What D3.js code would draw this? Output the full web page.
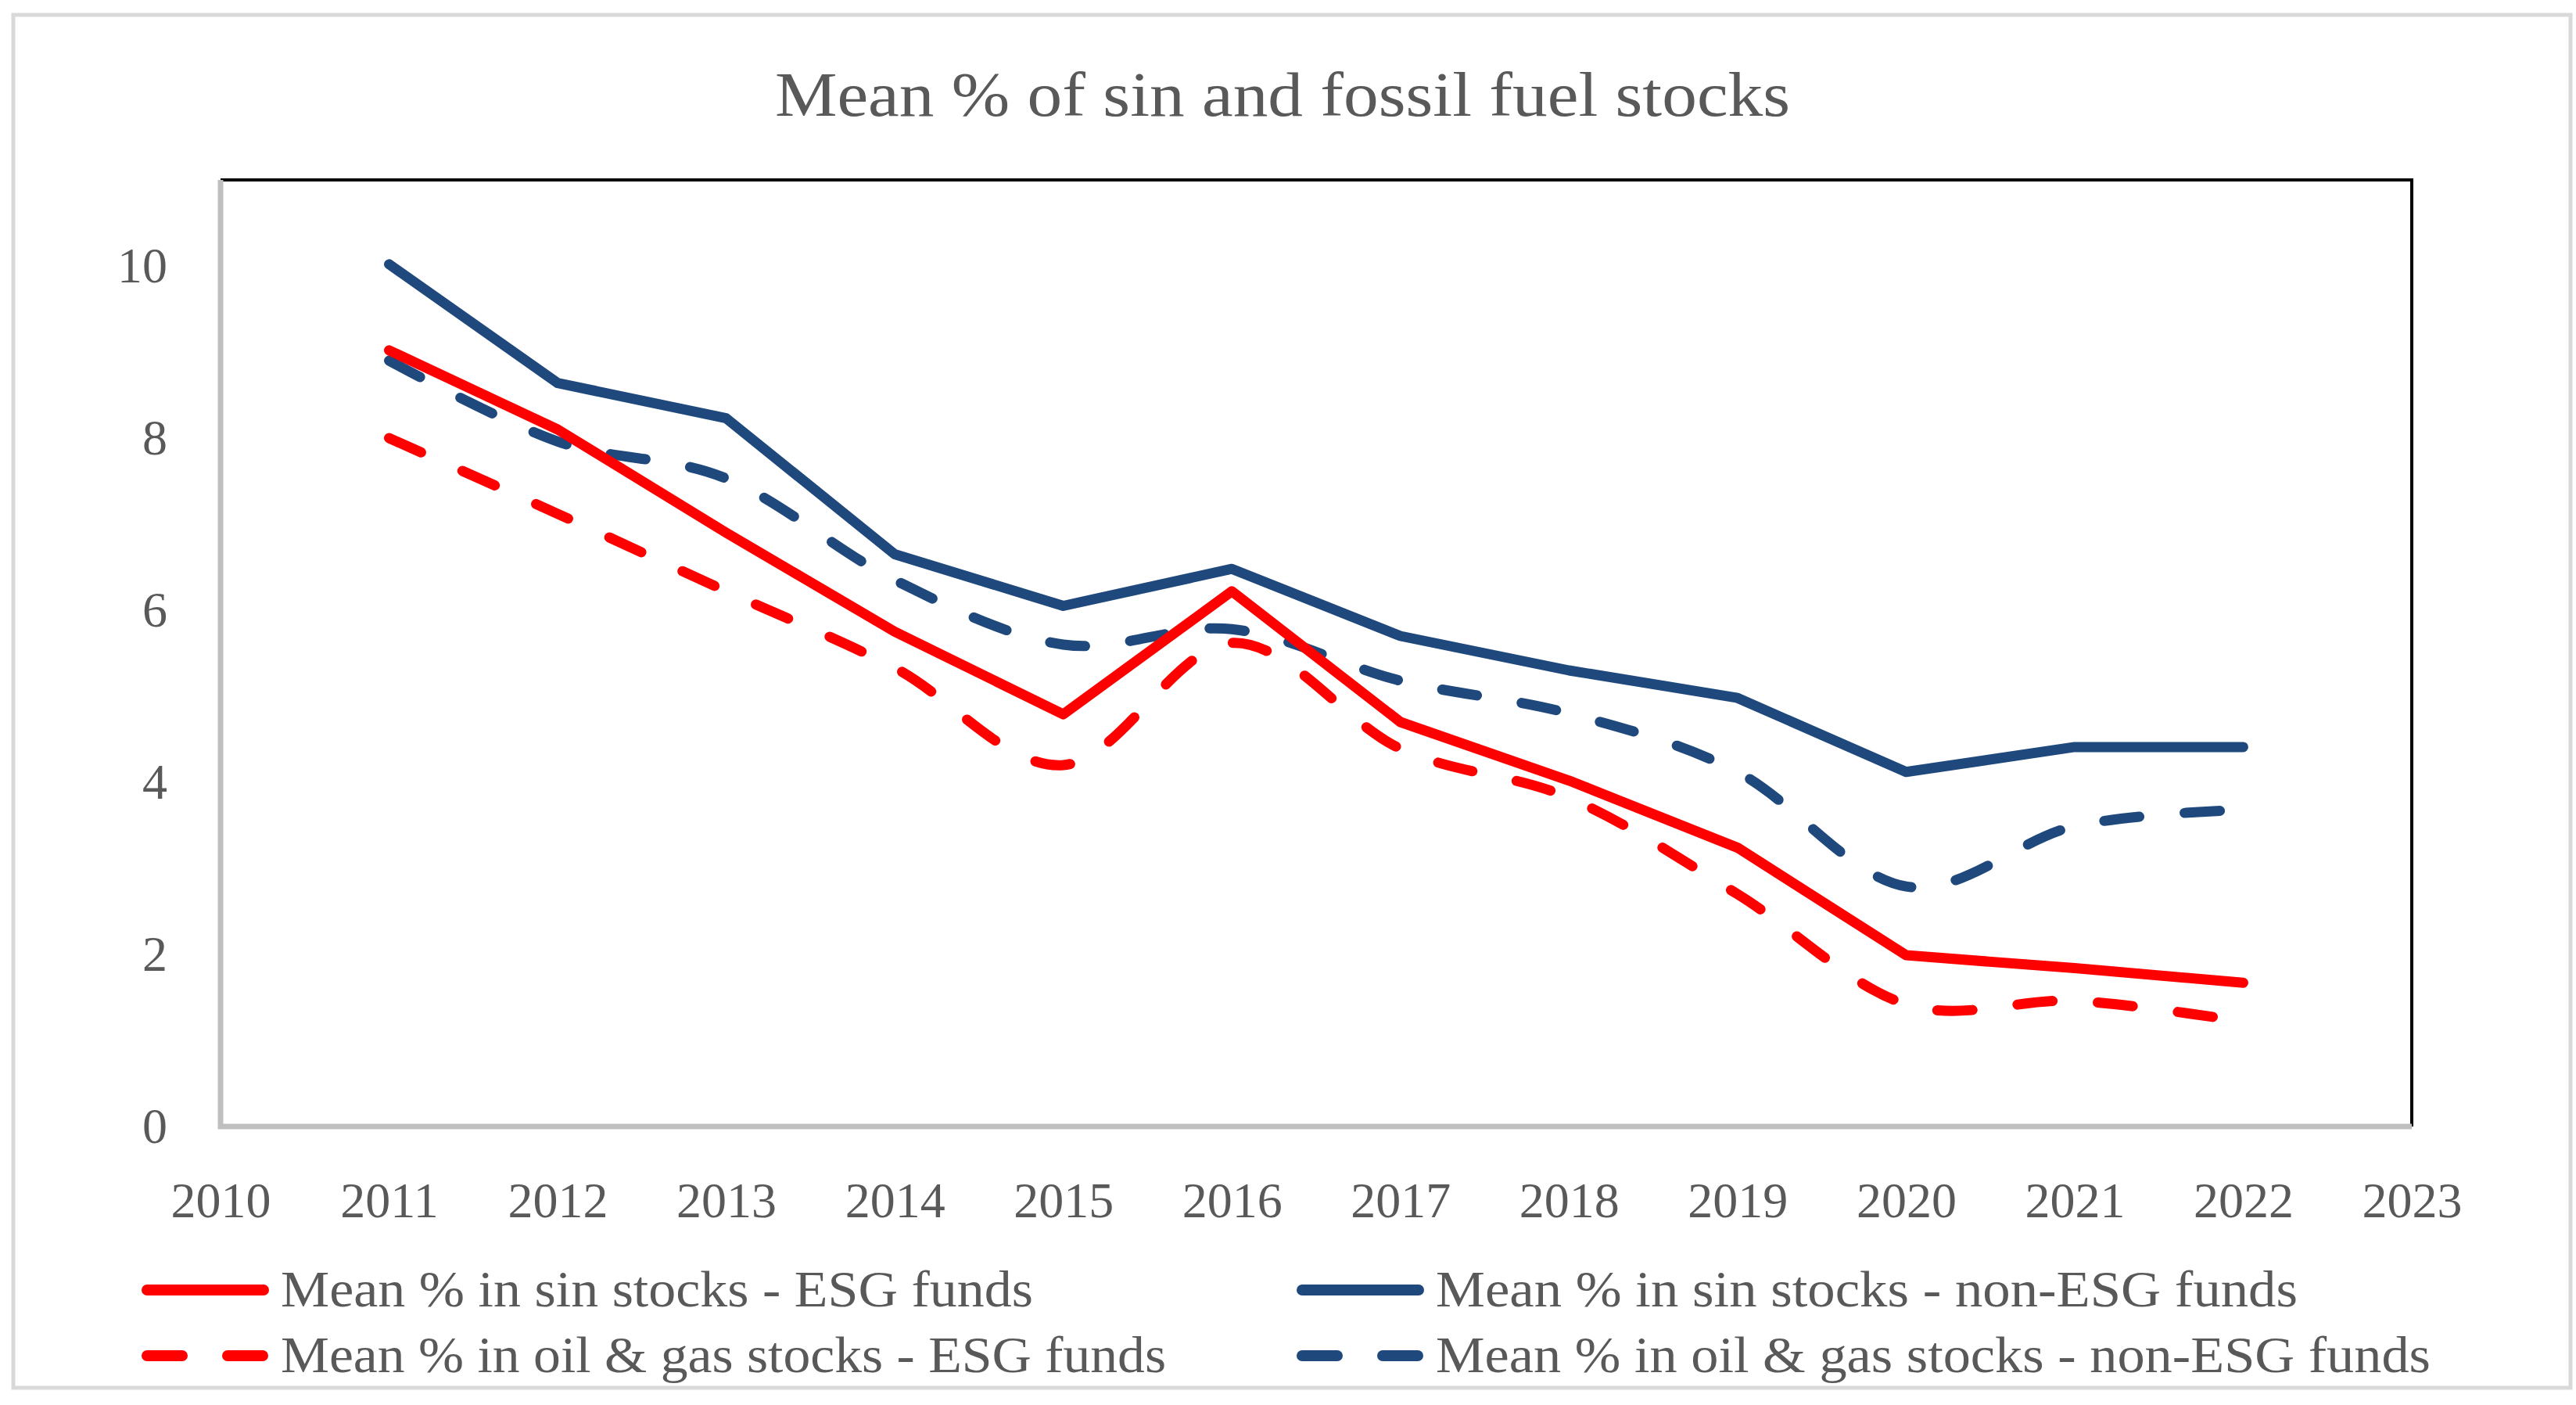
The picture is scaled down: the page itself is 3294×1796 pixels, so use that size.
<!DOCTYPE html>
<html>
<head>
<meta charset="utf-8">
<script src="https://cdn.jsdelivr.net/npm/d3@7"></script>
<style>
  html, body { margin: 0; padding: 0; background: #ffffff; }
  svg { display: block; }
  text { font-family: "Liberation Serif", "DejaVu Serif", serif; fill: #595959; }
</style>
</head>
<body>
<svg id="chart" width="3294" height="1796"></svg>
<script>
// ---------- data ----------
const title = "Mean % of sin and fossil fuel stocks";
const years = [2011, 2012, 2013, 2014, 2015, 2016, 2017, 2018, 2019, 2020, 2021, 2022];
const sinESG    = [9.02, 8.10, 6.90, 5.75, 4.79, 6.22, 4.70, 4.02, 3.24, 1.99, 1.84, 1.67];
const sinNonESG = [10.02, 8.64, 8.23, 6.65, 6.05, 6.48, 5.70, 5.30, 4.98, 4.12, 4.41, 4.41];
const oilESG    = [8.00, 7.12, 6.22, 5.33, 4.20, 5.62, 4.39, 3.82, 2.70, 1.42, 1.46, 1.22];
const oilNonESG = [8.90, 7.96, 7.53, 6.35, 5.60, 5.78, 5.18, 4.80, 4.12, 2.79, 3.49, 3.68];
const xTicks = [2010, 2011, 2012, 2013, 2014, 2015, 2016, 2017, 2018, 2019, 2020, 2021, 2022, 2023];
const yTicks = [0, 2, 4, 6, 8, 10];
const seriesNames = [
  "Mean % in sin stocks - ESG funds",
  "Mean % in sin stocks - non-ESG funds",
  "Mean % in oil & gas stocks - ESG funds",
  "Mean % in oil & gas stocks - non-ESG funds"
];

// ---------- style ----------
const RED = "#FF0000", BLUE = "#1F497D";
const series = [
  { name: seriesNames[0], values: sinESG,    color: RED,  dashed: false },
  { name: seriesNames[1], values: sinNonESG, color: BLUE, dashed: false },
  { name: seriesNames[2], values: oilESG,    color: RED,  dashed: true },
  { name: seriesNames[3], values: oilNonESG, color: BLUE, dashed: true }
];
const DASH = "45,58";
const SW = 13;

const svg = d3.select("#chart");
const pLeft = 282, pRight = 3084, pTop = 230, pBottom = 1440;

// outer border
svg.append("rect")
  .attr("x", 17).attr("y", 19).attr("width", 3270).attr("height", 1755)
  .attr("fill", "#ffffff").attr("stroke", "#D9D9D9").attr("stroke-width", 5);

const x = d3.scaleLinear().domain([2010, 2023]).range([pLeft, pRight]);
const y = d3.scaleLinear().domain([0, 11]).range([pBottom, pTop]);

// title
svg.append("text")
  .attr("x", 1640).attr("y", 148)
  .attr("text-anchor", "middle")
  .style("font-size", "80px")
  .attr("textLength", 1298).attr("lengthAdjust", "spacingAndGlyphs")
  .text(title);

// frame: top & right black
svg.append("line").attr("x1", pLeft).attr("x2", pRight + 2).attr("y1", pTop).attr("y2", pTop)
  .attr("stroke", "#000").attr("stroke-width", 4);
svg.append("line").attr("x1", pRight).attr("x2", pRight).attr("y1", pTop).attr("y2", pBottom)
  .attr("stroke", "#000").attr("stroke-width", 4);

// axes
const xAxis = d3.axisBottom(x).tickValues(xTicks).tickFormat(d3.format("d")).tickSize(0).tickPadding(71);
const gx = svg.append("g").attr("transform", `translate(0,${pBottom})`).call(xAxis);
gx.select(".domain").remove();
gx.selectAll("text").style("font-size", "64px").attr("fill", "#595959")
  .style("font-family", '"Liberation Serif", serif');

const yAxis = d3.axisLeft(y).tickValues(yTicks).tickFormat(d3.format("d")).tickSize(0).tickPadding(68);
const gy = svg.append("g").attr("transform", `translate(${pLeft},0)`).call(yAxis);
gy.select(".domain").remove();
gy.selectAll("text").style("font-size", "64px").attr("fill", "#595959")
  .style("font-family", '"Liberation Serif", serif');

svg.append("line").attr("x1", pLeft).attr("x2", pLeft).attr("y1", pTop).attr("y2", pBottom + 3)
  .attr("stroke", "#BFBFBF").attr("stroke-width", 7);
svg.append("line").attr("x1", pLeft - 3).attr("x2", pRight).attr("y1", pBottom).attr("y2", pBottom)
  .attr("stroke", "#BFBFBF").attr("stroke-width", 7);

// lines
const drawOrder = [series[3], series[1], series[2], series[0]];
drawOrder.forEach(s => {
  const gen = d3.line()
    .x((d, i) => x(years[i]))
    .y(d => y(d))
    .curve(s.dashed ? d3.curveCardinal.tension(0) : d3.curveLinear);
  svg.append("path")
    .attr("d", gen(s.values))
    .attr("fill", "none")
    .attr("stroke", s.color)
    .attr("stroke-width", SW)
    .attr("stroke-linejoin", "round")
    .attr("stroke-linecap", "round")
    .attr("stroke-dasharray", s.dashed ? DASH : null);
});

// legend
const legendCols = [188, 1665];
const legendRows = [1649, 1733];
const legendTextLen = [962, 1102, 1132, 1272];
series.forEach((s, i) => {
  const cx = legendCols[i % 2];
  const cy = legendRows[Math.floor(i / 2)];
  svg.append("line")
    .attr("x1", cx).attr("x2", cx + 149)
    .attr("y1", cy).attr("y2", cy)
    .attr("stroke", s.color).attr("stroke-width", 14)
    .attr("stroke-linecap", "round")
    .attr("stroke-dasharray", s.dashed ? DASH : null);
  svg.append("text")
    .attr("x", cx + 171).attr("y", cy + 21)
    .style("font-size", "65px")
    .attr("textLength", legendTextLen[i])
    .attr("lengthAdjust", "spacingAndGlyphs")
    .text(s.name);
});
</script>
</body>
</html>
